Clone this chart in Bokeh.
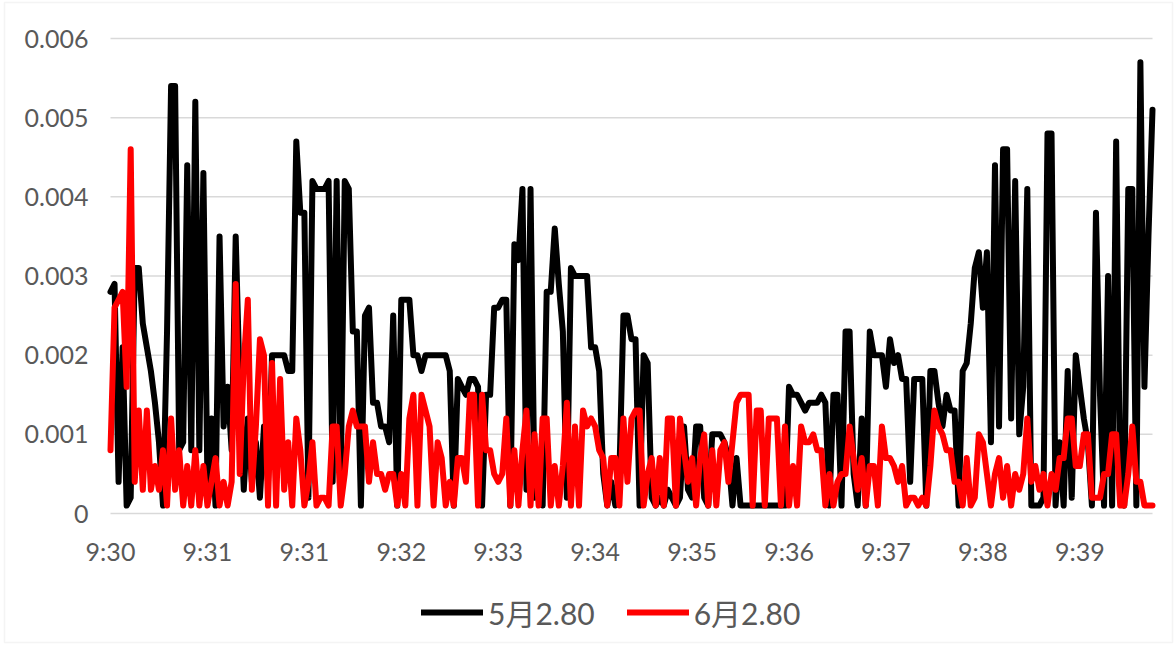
from bokeh.plotting import figure
from bokeh.models import Range1d, Legend, LegendItem, BoxAnnotation
from bokeh.core.properties import value
from bokeh.embed import file_html
from bokeh.resources import INLINE

# x-axis category labels (one every 24 samples)
tick_labels = ["9:30", "9:31", "9:31", "9:32", "9:33", "9:34", "9:35", "9:36", "9:37", "9:38", "9:39"]
y_ticks = [0, 0.001, 0.002, 0.003, 0.004, 0.005, 0.006]
y_tick_labels = ["0", "0.001", "0.002", "0.003", "0.004", "0.005", "0.006"]
series_names = ["5月2.80", "6月2.80"]

may_280 = [
    0.0028, 0.0029, 0.0004, 0.0021, 0.0001, 0.0002, 0.0031, 0.0031, 0.0024, 0.0021,
    0.0018, 0.0014, 0.0009, 0.0001, 0.0023, 0.0054, 0.0054, 0.0008, 0.0009, 0.0044,
    0.0008, 0.0052, 0.0008, 0.0043, 0.0004, 0.0012, 0.0001, 0.0035, 0.0011, 0.0016,
    0.0008, 0.0035, 0.0016, 0.0003, 0.0012, 0.0004, 0.0009, 0.0002, 0.0011, 0.0004,
    0.0020, 0.0020, 0.0020, 0.0020, 0.0018, 0.0018, 0.0047, 0.0038, 0.0038, 0.0002,
    0.0042, 0.0041, 0.0041, 0.0041, 0.0042, 0.0004, 0.0042, 0.0004, 0.0042, 0.0041,
    0.0023, 0.0023, 0.0001, 0.0025, 0.0026, 0.0014, 0.0014, 0.0011, 0.0011, 0.0009,
    0.0025, 0.0001, 0.0027, 0.0027, 0.0027, 0.0020, 0.0020, 0.0018, 0.0020, 0.0020,
    0.0020, 0.0020, 0.0020, 0.0020, 0.0018, 0.0001, 0.0017, 0.0016, 0.0015, 0.0017,
    0.0017, 0.0016, 0.0001, 0.0015, 0.0015, 0.0026, 0.0026, 0.0027, 0.0027, 0.0001,
    0.0034, 0.0032, 0.0041, 0.0003, 0.0041, 0.0002, 0.0004, 0.0001, 0.0028, 0.0028,
    0.0036, 0.0029, 0.0023, 0.0002, 0.0031, 0.0030, 0.0030, 0.0030, 0.0030, 0.0021,
    0.0021, 0.0018, 0.0005, 0.0001, 0.0004, 0.0001, 0.0005, 0.0025, 0.0025, 0.0022,
    0.0022, 0.0001, 0.0020, 0.0019, 0.0002, 0.0001, 0.0002, 0.0001, 0.0003, 0.0002,
    0.0001, 0.0002, 0.0011, 0.0003, 0.0002, 0.0011, 0.0011, 0.0002, 0.0001, 0.0010,
    0.0010, 0.0010, 0.0009, 0.0007, 0.0001, 0.0007, 0.0001, 0.0001, 0.0001, 0.0001,
    0.0001, 0.0001, 0.0001, 0.0001, 0.0001, 0.0001, 0.0001, 0.0001, 0.0016, 0.0015,
    0.0015, 0.0014, 0.0013, 0.0014, 0.0014, 0.0014, 0.0015, 0.0014, 0.0001, 0.0015,
    0.0015, 0.0001, 0.0023, 0.0023, 0.0005, 0.0001, 0.0012, 0.0001, 0.0023, 0.0020,
    0.0020, 0.0020, 0.0016, 0.0022, 0.0019, 0.0020, 0.0017, 0.0017, 0.0004, 0.0017,
    0.0017, 0.0017, 0.0001, 0.0018, 0.0018, 0.0014, 0.0011, 0.0015, 0.0013, 0.0013,
    0.0001, 0.0018, 0.0019, 0.0024, 0.0031, 0.0033, 0.0026, 0.0033, 0.0009, 0.0044,
    0.0011, 0.0046, 0.0046, 0.0012, 0.0042, 0.0010, 0.0016, 0.0041, 0.0001, 0.0001,
    0.0001, 0.0002, 0.0048, 0.0048, 0.0001, 0.0009, 0.0001, 0.0018, 0.0002, 0.0020,
    0.0016, 0.0012, 0.0009, 0.0001, 0.0038, 0.0015, 0.0001, 0.0030, 0.0001, 0.0047,
    0.0002, 0.0001, 0.0041, 0.0041, 0.0001, 0.0057, 0.0016, 0.0035, 0.0051,
]

jun_280 = [
    0.0008, 0.0026, 0.0027, 0.0028, 0.0016, 0.0046, 0.0004, 0.0013, 0.0003, 0.0013,
    0.0003, 0.0006, 0.0003, 0.0008, 0.0001, 0.0012, 0.0003, 0.0008, 0.0001, 0.0006,
    0.0001, 0.0008, 0.0001, 0.0006, 0.0001, 0.0004, 0.0007, 0.0001, 0.0004, 0.0001,
    0.0004, 0.0029, 0.0005, 0.0019, 0.0027, 0.0003, 0.0011, 0.0022, 0.0020, 0.0001,
    0.0019, 0.0001, 0.0017, 0.0003, 0.0009, 0.0001, 0.0012, 0.0008, 0.0001, 0.0004,
    0.0009, 0.0001, 0.0002, 0.0002, 0.0001, 0.0011, 0.0011, 0.0001, 0.0005, 0.0011,
    0.0013, 0.0011, 0.0011, 0.0011, 0.0004, 0.0009, 0.0005, 0.0005, 0.0003, 0.0005,
    0.0005, 0.0001, 0.0005, 0.0001, 0.0012, 0.0015, 0.0001, 0.0015, 0.0013, 0.0011,
    0.0001, 0.0009, 0.0007, 0.0001, 0.0004, 0.0001, 0.0007, 0.0007, 0.0004, 0.0015,
    0.0015, 0.0001, 0.0015, 0.0008, 0.0008, 0.0005, 0.0004, 0.0005, 0.0012, 0.0001,
    0.0008, 0.0001, 0.0008, 0.0013, 0.0001, 0.0010, 0.0001, 0.0012, 0.0012, 0.0001,
    0.0006, 0.0001, 0.0006, 0.0014, 0.0001, 0.0011, 0.0001, 0.0013, 0.0011, 0.0012,
    0.0011, 0.0008, 0.0007, 0.0001, 0.0007, 0.0007, 0.0001, 0.0012, 0.0004, 0.0012,
    0.0013, 0.0013, 0.0001, 0.0005, 0.0007, 0.0001, 0.0007, 0.0001, 0.0012, 0.0012,
    0.0001, 0.0012, 0.0008, 0.0004, 0.0007, 0.0001, 0.0007, 0.0010, 0.0001, 0.0008,
    0.0001, 0.0008, 0.0009, 0.0004, 0.0009, 0.0014, 0.0015, 0.0015, 0.0015, 0.0001,
    0.0013, 0.0013, 0.0001, 0.0012, 0.0012, 0.0012, 0.0001, 0.0011, 0.0001, 0.0006,
    0.0001, 0.0011, 0.0009, 0.0009, 0.0010, 0.0008, 0.0008, 0.0001, 0.0005, 0.0001,
    0.0004, 0.0005, 0.0005, 0.0011, 0.0007, 0.0003, 0.0007, 0.0001, 0.0006, 0.0006,
    0.0001, 0.0011, 0.0007, 0.0007, 0.0006, 0.0004, 0.0006, 0.0001, 0.0002, 0.0002,
    0.0001, 0.0002, 0.0001, 0.0006, 0.0013, 0.0011, 0.0010, 0.0008, 0.0008, 0.0004,
    0.0004, 0.0001, 0.0007, 0.0001, 0.0002, 0.0010, 0.0009, 0.0005, 0.0001, 0.0005,
    0.0007, 0.0002, 0.0006, 0.0001, 0.0005, 0.0003, 0.0005, 0.0012, 0.0004, 0.0006,
    0.0003, 0.0005, 0.0001, 0.0005, 0.0003, 0.0007, 0.0007, 0.0012, 0.0012, 0.0006,
    0.0006, 0.0010, 0.0010, 0.0002, 0.0002, 0.0002, 0.0005, 0.0005, 0.0010, 0.0010,
    0.0001, 0.0001, 0.0005, 0.0011, 0.0004, 0.0004, 0.0001, 0.0001, 0.0001,
]

n = len(may_280)
xs = list(range(n))
label_step = 24
tick_pos = [i * label_step for i in range(len(tick_labels))]

FONT = "Lato, 'Noto Sans CJK SC', sans-serif"
GRAY = "#595959"
GRID = "#d9d9d9"

# Plot-area geometry (pixels): the data area spans 1042 x 475 px, with room
# around it for the value labels, the time labels and the legend.
W, H = 1176, 646
left_px, right_px, top_px, bottom_px = 110, 24, 38, 133
px_x = (W - left_px - right_px) / (n - 1)
px_y = y_ticks[-1] / (H - top_px - bottom_px)
x_range = Range1d(-left_px / px_x, (n - 1) + right_px / px_x)
y_range = Range1d(-bottom_px * px_y, y_ticks[-1] + top_px * px_y)

p = figure(width=W, height=H, output_backend="svg", toolbar_location=None,
           x_axis_location=None, y_axis_location=None,
           x_range=x_range, y_range=y_range,
           min_border=0)
p.background_fill_color = "white"
p.border_fill_color = "white"
p.outline_line_color = None
p.grid.visible = False

# chart-area border
p.add_layout(BoxAnnotation(left=4, right=W - 4, top=4, bottom=H - 2,
                           left_units="screen", right_units="screen",
                           top_units="screen", bottom_units="screen",
                           fill_alpha=0, line_color=GRID, line_width=1.5))

# horizontal gridlines across the data area
p.segment(x0=[0] * len(y_ticks), y0=y_ticks, x1=[n - 1] * len(y_ticks), y1=y_ticks,
          line_color=GRID, line_width=1.5)

# value labels
p.text(x=[0] * len(y_ticks), y=y_ticks, text=y_tick_labels,
       text_align="right", text_baseline="middle", x_offset=-22,
       text_font=value(FONT), text_font_size=value("25px"), text_color=GRAY)

# time labels under the zero line
p.text(x=tick_pos, y=[0] * len(tick_pos), text=tick_labels,
       text_align="center", text_baseline="top", y_offset=22,
       text_font=value(FONT), text_font_size=value("25px"), text_color=GRAY)

r1 = p.line(xs, may_280, line_color="#000000", line_width=6, line_join="round", line_cap="round")
r2 = p.line(xs, jun_280, line_color="#ff0000", line_width=6, line_join="round", line_cap="round")

legend = Legend(items=[LegendItem(label=series_names[0], renderers=[r1]),
                       LegendItem(label=series_names[1], renderers=[r2])],
                orientation="horizontal", location=(421, 12),
                glyph_width=62, glyph_height=36, label_height=36,
                label_standoff=5, spacing=32, padding=0, margin=0,
                label_text_font=FONT, label_text_font_size="30px", label_text_color=GRAY,
                background_fill_alpha=0, border_line_color=None)
p.add_layout(legend, "center")

open("out.html", "w").write(file_html(p, INLINE))
